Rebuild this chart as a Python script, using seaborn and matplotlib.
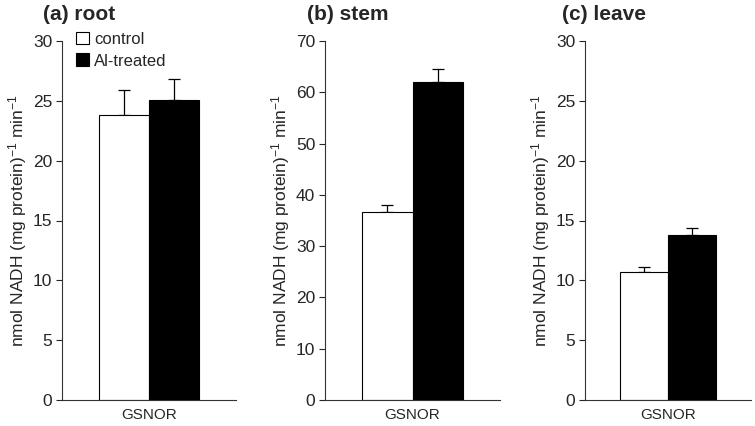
import numpy as np
import pandas as pd
import matplotlib.pyplot as plt
import seaborn as sns

organs = ['root', 'stem', 'leave']
panel_tags = ['(a)', '(b)', '(c)']
treatments = ['control', 'Al-treated']
control_mean = [23.8, 36.6, 10.7]
control_err = [2.1, 1.4, 0.4]
al_mean = [25.1, 62.0, 13.8]
al_err = [1.7, 2.5, 0.6]
ymax = [30, 70, 30]
ystep = [5, 10, 5]
enzyme = 'GSNOR'

sns.set_style('ticks')
plt.rcParams['font.family'] = ['Liberation Sans', 'DejaVu Sans']
plt.rcParams['mathtext.fontset'] = 'custom'
plt.rcParams['mathtext.rm'] = 'Liberation Sans'
plt.rcParams['mathtext.it'] = 'Liberation Sans'

fig = plt.figure(figsize=(7.55, 4.26), dpi=100)
lefts = [62, 325, 585]
widths = [174, 175, 166]
title_x = [43, 307, 562]

for i, organ in enumerate(organs):
    ax = fig.add_axes([lefts[i] / 755, 1 - 400 / 426, widths[i] / 755, 359 / 426])
    df = pd.DataFrame({'enzyme': [enzyme, enzyme],
                       'treatment': treatments,
                       'value': [control_mean[i], al_mean[i]]})
    sns.barplot(data=df, x='enzyme', y='value', hue='treatment',
                palette=['white', 'black'], edgecolor='black', linewidth=0.8,
                width=0.58, errorbar=None, legend=False, ax=ax, zorder=2)
    errs = [control_err[i], al_err[i]]
    means = [control_mean[i], al_mean[i]]
    for p, m, e in zip(ax.patches, means, errs):
        xc = p.get_x() + p.get_width() / 2
        ax.errorbar(xc, m, yerr=[[0], [e]], fmt='none', ecolor='black',
                    elinewidth=0.9, capsize=4, capthick=0.9, zorder=1)
    ax.set_xlim(-0.5, 0.5)
    ax.set_ylim(0, ymax[i])
    ax.set_yticks(np.arange(0, ymax[i] + 1, ystep[i]))
    ax.tick_params(axis='y', labelsize=12.5, length=4, width=0.8, direction='out', pad=3)
    ax.tick_params(axis='x', labelsize=11, length=0, pad=6)
    ax.set_xlabel('')
    ax.set_ylabel(r'nmol NADH (mg protein)$^{\mathregular{-1}}$ min$^{\mathregular{-1}}$',
                  fontsize=12.5, labelpad=3)
    sns.despine(ax=ax)
    for s in ['left', 'bottom']:
        ax.spines[s].set_linewidth(0.8)
        ax.spines[s].set_color('#333333')
    fig.text(title_x[i] / 755, 1 - 14 / 426, panel_tags[i] + ' ' + organ,
             fontsize=15, fontweight='bold', va='center', ha='left')
    if i == 0:
        ax.legend(ax.patches[:2], treatments, loc='upper left', frameon=False,
                  fontsize=12, handlelength=0.8, handleheight=0.8,
                  handletextpad=0.3, borderaxespad=0.0, labelspacing=0.4,
                  bbox_to_anchor=(0.04, 1.045))

fig.savefig('out.png', dpi=100)
